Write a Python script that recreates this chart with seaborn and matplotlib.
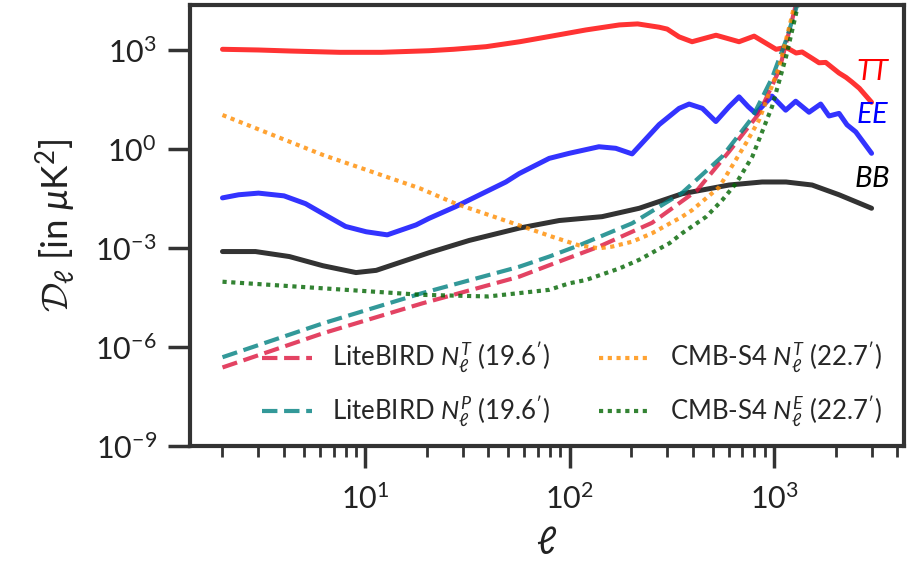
import matplotlib
matplotlib.use("Agg")
import matplotlib.pyplot as plt
import matplotlib.ticker as mticker
import seaborn as sns

# CMB angular power spectra, D_ell in muK^2
ell_tt = [2, 3, 4.3, 7.5, 12, 20.5, 27, 39, 57, 82, 120, 175, 215, 274, 300, 343,
          397, 520, 674, 799, 1023, 1145, 1282, 1372, 1535, 1660, 1790, 2080,
          2250, 2405, 2615, 3000]
d_tt = [1050, 1000, 930, 850, 850, 950, 1050, 1260, 1780, 2650, 4050, 5750, 6170,
        4900, 4300, 2500, 1780, 2800, 1780, 2630, 1050, 1200, 810, 870, 560, 410,
        420, 200, 148, 107, 69, 26]

ell_ee = [2, 2.4, 3, 4, 5.1, 6.2, 8, 10.1, 12.8, 17.7, 20.5, 27.7, 48.7, 56.6, 79.4,
          99.5, 139, 168, 202, 274, 343, 384, 446, 519, 602, 674, 748, 813, 977,
          1140, 1276, 1483, 1691, 1857, 2080, 2275, 2510, 3000]
d_ee = [0.033, 0.041, 0.046, 0.038, 0.022, 0.011, 0.0045, 0.0031, 0.0025, 0.0050,
        0.0079, 0.018, 0.10, 0.18, 0.52, 0.74, 1.17, 1.05, 0.71, 5.5, 17, 23, 17,
        6.8, 19, 38, 19, 12, 40, 15, 28, 13, 23, 10, 12, 5.4, 3.3, 0.74]

ell_bb = [2, 2.9, 4.25, 6.2, 9.0, 11.3, 20.5, 32.3, 56.6, 88.9, 144, 219, 355, 602,
          874, 1145, 1535, 2080, 3000]
d_bb = [7.8e-4, 7.8e-4, 5.5e-4, 2.9e-4, 1.8e-4, 2.1e-4, 7.2e-4, 1.7e-3, 4.0e-3,
        6.8e-3, 8.9e-3, 0.016, 0.044, 0.081, 0.10, 0.10, 0.081, 0.041, 0.016]

# Instrumental noise spectra
ell_lb_t = [2, 6.2, 19, 56.6, 79.4, 139, 253, 420, 602, 845, 1060, 1225, 1290]
n_lb_t = [2.4e-7, 2.6e-6, 2.1e-5, 1.35e-4, 3.0e-4, 1.1e-3, 5.8e-3, 0.056, 0.83,
          12, 245, 8100, 3e4]

ell_lb_p = [2, 6.2, 19, 56.6, 79.4, 111, 202, 355, 557, 780, 977, 1145, 1282, 1305]
n_lb_p = [4.9e-7, 5.2e-6, 4.3e-5, 2.7e-4, 5.5e-4, 1.2e-3, 5.6e-3, 0.047, 0.59,
          8.7, 141, 2000, 1.8e4, 3e4]

ell_s4_t = [2, 6.2, 18.4, 27.7, 58.7, 82, 111, 139, 161, 202, 253, 355, 397, 538,
            729, 845, 1060, 1210, 1270]
n_s4_t = [10.7, 0.66, 0.065, 0.022, 4.5e-3, 2.2e-3, 1.2e-3, 9.8e-4, 1.1e-3,
          1.55e-3, 2.8e-3, 8.9e-3, 0.014, 0.069, 1.5, 7.6, 310, 8100, 3e4]

ell_s4_e = [2, 6.2, 19, 40, 79.4, 99.5, 120, 175, 219, 308, 355, 466, 557, 652, 783,
            977, 1145, 1282, 1315]
n_s4_e = [9.5e-5, 6.0e-5, 3.8e-5, 3.4e-5, 5.4e-5, 8.5e-5, 1.07e-4, 2.4e-4, 4.4e-4,
          1.4e-3, 2.8e-3, 8.9e-3, 0.028, 0.091, 0.59, 19, 630, 1.29e4, 3e4]

noise_labels = [r"LiteBIRD $N_\ell^T$ (19.6$^\prime$)",
                r"LiteBIRD $N_\ell^P$ (19.6$^\prime$)",
                r"CMB-S4 $N_\ell^T$ (22.7$^\prime$)",
                r"CMB-S4 $N_\ell^E$ (22.7$^\prime$)"]

sns.set_theme(style="ticks", context="poster")
plt.rcParams["font.family"] = ["Lato", "DejaVu Sans"]
plt.rcParams["mathtext.fontset"] = "custom"
plt.rcParams["mathtext.rm"] = "Lato"
plt.rcParams["mathtext.it"] = "Lato:italic"
plt.rcParams["mathtext.cal"] = "cmsy10"

dark = "#333333"
fig = plt.figure(figsize=(9.15, 5.61), dpi=100)
ax = fig.add_axes([0.2077, 0.205, 0.7803, 0.786])
ax.set_xscale("log")
ax.set_yscale("log")

solid = dict(lw=3.6, alpha=0.8, solid_capstyle="round", solid_joinstyle="round", ax=ax)
sns.lineplot(x=ell_tt, y=d_tt, color="red", **solid)
sns.lineplot(x=ell_ee, y=d_ee, color="blue", **solid)
sns.lineplot(x=ell_bb, y=d_bb, color="black", **solid)

dotted = (0, (1, 1.1))
noise = [
    (ell_lb_t, n_lb_t, "crimson", "--"),
    (ell_lb_p, n_lb_p, "teal", "--"),
    (ell_s4_t, n_s4_t, "darkorange", dotted),
    (ell_s4_e, n_s4_e, "darkgreen", dotted),
]
handles = []
for (x, y, c, ls), lab in zip(noise, noise_labels):
    sns.lineplot(x=x, y=y, color=c, lw=3, alpha=0.8, linestyle=ls, ax=ax)
    handles.append(ax.get_lines()[-1])

ax.set_ylim(1e-9, 2.3e4)
ax.yaxis.set_major_locator(mticker.FixedLocator([1e-9, 1e-6, 1e-3, 1e0, 1e3]))
ax.yaxis.set_major_formatter(mticker.LogFormatterSciNotation())
ax.yaxis.set_minor_locator(mticker.NullLocator())

for side in ["left", "bottom", "top", "right"]:
    ax.spines[side].set_linewidth(3)
    ax.spines[side].set_color(dark)
ax.tick_params(which="major", length=16, width=2.5, color=dark, labelsize=22,
               labelcolor="#222222", pad=8)
ax.tick_params(axis="x", which="major", pad=11)
ax.tick_params(which="minor", length=8, width=2, color=dark)

ax.set_xlabel(r"$\ell$", fontsize=27, color="#222222", labelpad=8)
ax.set_ylabel(r"$\mathcal{D}_\ell$ [in $\mu$K$^2$]", fontsize=26.5, color="#222222",
              labelpad=12)

ax.text(2510, 215, "$TT$", color="red", fontsize=21, ha="left", va="center")
ax.text(2510, 10.7, "$EE$", color="blue", fontsize=21, ha="left", va="center")
ax.text(2450, 0.123, "$BB$", color="black", fontsize=21, ha="left", va="center")

ax.legend(handles, noise_labels, ncol=2, frameon=False, fontsize=18.5,
          loc="center", bbox_to_anchor=(0.535, 0.14), handlelength=1.95,
          handletextpad=0.8, columnspacing=1.9, labelspacing=0.7)

fig.savefig("out.png", dpi=100)
